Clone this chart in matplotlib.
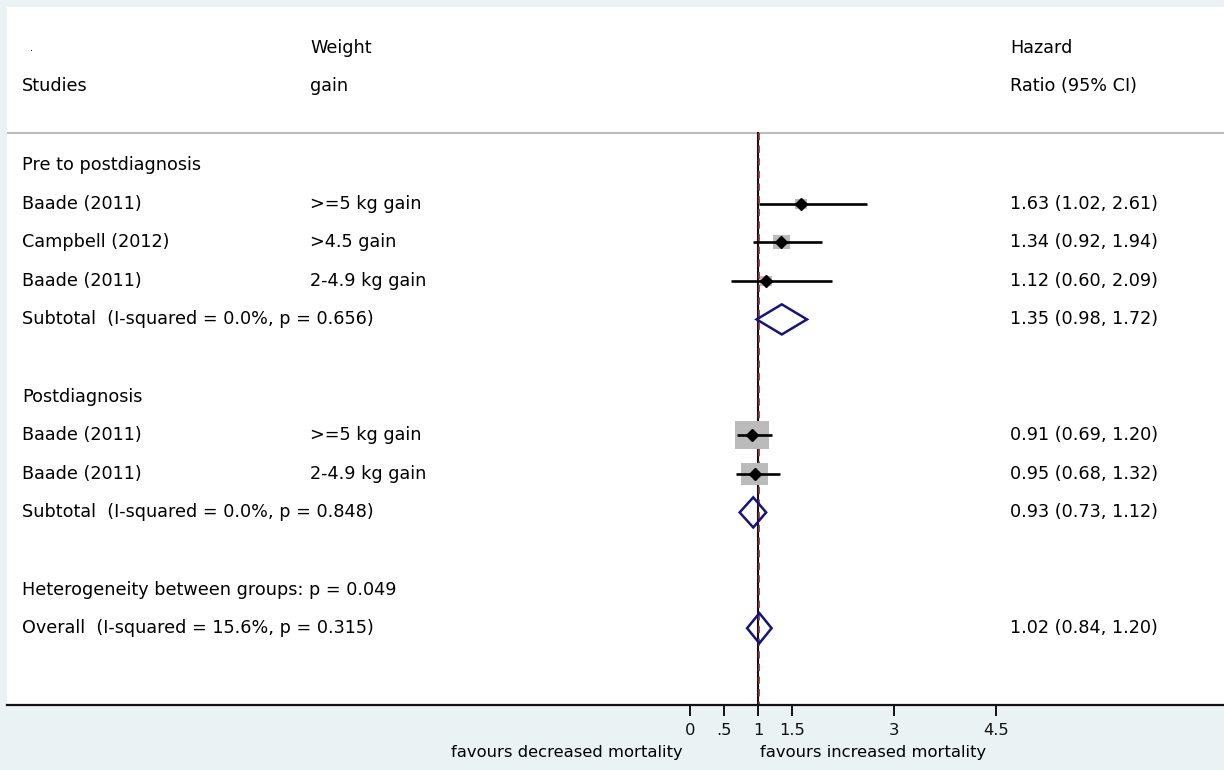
import matplotlib
matplotlib.use("Agg")
import matplotlib.pyplot as plt
from matplotlib.patches import Rectangle, Polygon
from matplotlib.transforms import blended_transform_factory

plt.rcParams['font.family'] = ['DejaVu Sans']

# ---- data ----
group_names = ["Pre to postdiagnosis", "Postdiagnosis"]
studies = ["Baade (2011)", "Campbell (2012)", "Baade (2011)", "Baade (2011)", "Baade (2011)"]
gains = [">=5 kg gain", ">4.5 gain", "2-4.9 kg gain", ">=5 kg gain", "2-4.9 kg gain"]
study_group = [0, 0, 0, 1, 1]
hr = [1.63, 1.34, 1.12, 0.91, 0.95]
hr_lo = [1.02, 0.92, 0.60, 0.69, 0.68]
hr_hi = [2.61, 1.94, 2.09, 1.20, 1.32]
weights = [5.8, 11.7, 5.8, 47.0, 29.6]

sub_labels = ["Subtotal  (I-squared = 0.0%, p = 0.656)", "Subtotal  (I-squared = 0.0%, p = 0.848)"]
sub_hr = [1.35, 0.93]
sub_lo = [0.98, 0.73]
sub_hi = [1.72, 1.12]

het_label = "Heterogeneity between groups: p = 0.049"
overall_label = "Overall  (I-squared = 15.6%, p = 0.315)"
overall_hr = 1.02
overall_lo = 0.84
overall_hi = 1.20

xticks = [0, 0.5, 1, 1.5, 3, 4.5]
xtick_labels = ["0", ".5", "1", "1.5", "3", "4.5"]
left_note = "favours decreased mortality"
right_note = "favours increased mortality"

# ---- layout ----
W, H = 1224, 770
fig = plt.figure(figsize=(W / 100, H / 100), dpi=100)
fig.patch.set_facecolor("#eaf2f3")
ax_l, ax_r, ax_t, ax_b = 7, 1224, 7, 705
ax = fig.add_axes([ax_l / W, 1 - ax_b / H, (ax_r - ax_l) / W, (ax_b - ax_t) / H])
ax.set_facecolor("white")

px_per_unit = 68.0
x0_px = 690.0
ax.set_xlim((ax_l - x0_px) / px_per_unit, (ax_r - x0_px) / px_per_unit)
row_px = 38.6
row0_px = 165.0
ax.set_ylim((ax_b - row0_px) / row_px, (ax_t - row0_px) / row_px)

for s in ["left", "right", "top"]:
    ax.spines[s].set_visible(False)
ax.spines["bottom"].set_linewidth(1.6)
ax.spines["bottom"].set_color("#111111")
ax.set_yticks([])
ax.set_xticks(xticks)
ax.set_xticklabels(xtick_labels, fontsize=11.8)
ax.tick_params(axis="x", direction="out", length=8, width=1.4, pad=5, colors="#111111")

trans = blended_transform_factory(fig.transFigure, ax.transData)
col1 = 22 / W
col2 = 310 / W
col3 = 1010 / W
fs = 12.7

# header
ax.text(col1 + 8 / W, -3.03, ".", transform=trans, fontsize=7, va="center", ha="left")
ax.text(col2, -3.03, "Weight", transform=trans, fontsize=fs, va="center")
ax.text(col1, -2.05, "Studies", transform=trans, fontsize=fs, va="center")
ax.text(col2, -2.05, "gain", transform=trans, fontsize=fs, va="center")
ax.text(col3, -3.03, "Hazard", transform=trans, fontsize=fs, va="center")
ax.text(col3, -2.05, "Ratio (95% CI)", transform=trans, fontsize=fs, va="center")
header_line_y = -0.83
ax.axhline(header_line_y, color="#bdbdbd", lw=1.5)

ymax_plot = (ax_b - row0_px) / row_px

# reference lines
ax.plot([1, 1], [header_line_y, ymax_plot], color="#111111", lw=1.5, zorder=2)
ax.plot([overall_hr, overall_hr], [header_line_y, ymax_plot], color="#90353b",
        lw=1.3, dashes=(4, 3), zorder=2)

diamond_half_h = 0.39
box_scale = 4.95  # px per sqrt(weight)

def draw_diamond(y, c, lo, hi):
    poly = Polygon([[lo, y], [c, y - diamond_half_h], [hi, y], [c, y + diamond_half_h]],
                   closed=True, fill=False, edgecolor="#14147a", lw=1.8, zorder=5)
    ax.add_patch(poly)

y = 0
for g in range(2):
    ax.text(col1, y, group_names[g], transform=trans, fontsize=fs, va="center")
    y += 1
    for i in range(len(studies)):
        if study_group[i] != g:
            continue
        ax.text(col1, y, studies[i], transform=trans, fontsize=fs, va="center")
        ax.text(col2, y, gains[i], transform=trans, fontsize=fs, va="center")
        ax.text(col3, y, f"{hr[i]:.2f} ({hr_lo[i]:.2f}, {hr_hi[i]:.2f})", transform=trans,
                fontsize=fs, va="center")
        wpx = box_scale * weights[i] ** 0.5
        bw = wpx / px_per_unit
        bh = 0.83 * wpx / row_px
        ax.add_patch(Rectangle((hr[i] - bw / 2, y - bh / 2), bw, bh, facecolor="#bbbbbb",
                               edgecolor="none", zorder=3))
        ax.plot([hr_lo[i], hr_hi[i]], [y, y], color="black", lw=1.9, zorder=4,
                solid_capstyle="butt")
        ax.plot([hr[i]], [y], marker="D", color="black", markersize=6.3, zorder=6)
        y += 1
    ax.text(col1, y, sub_labels[g], transform=trans, fontsize=fs, va="center")
    ax.text(col3, y, f"{sub_hr[g]:.2f} ({sub_lo[g]:.2f}, {sub_hi[g]:.2f})", transform=trans,
            fontsize=fs, va="center")
    draw_diamond(y, sub_hr[g], sub_lo[g], sub_hi[g])
    y += 2

ax.text(col1, y, het_label, transform=trans, fontsize=fs, va="center")
y += 1
ax.text(col1, y, overall_label, transform=trans, fontsize=fs, va="center")
ax.text(col3, y, f"{overall_hr:.2f} ({overall_lo:.2f}, {overall_hi:.2f})", transform=trans,
        fontsize=fs, va="center")
draw_diamond(y, overall_hr, overall_lo, overall_hi)

# bottom notes
fig.text(683 / W, 1 - 753 / H, left_note, fontsize=11.8, ha="right", va="center")
fig.text(760 / W, 1 - 753 / H, right_note, fontsize=11.8, ha="left", va="center")

fig.savefig("out.png", dpi=100, facecolor=fig.get_facecolor())
